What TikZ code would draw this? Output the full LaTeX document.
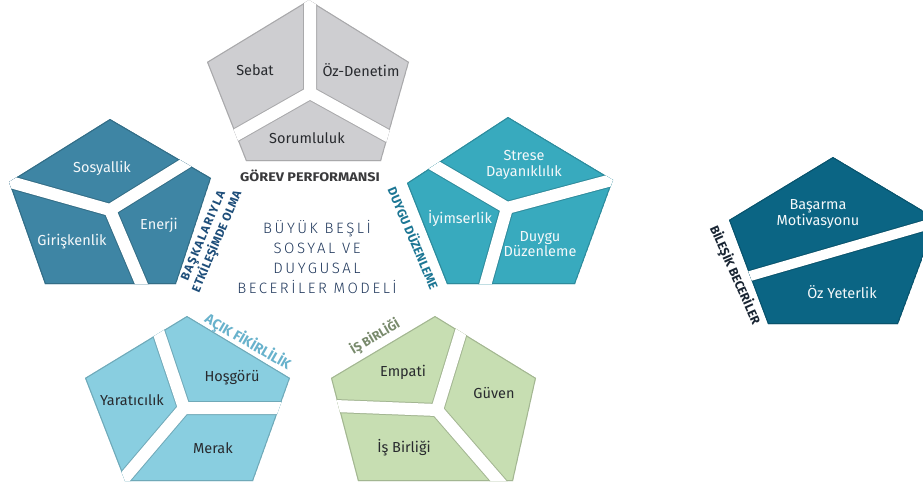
\documentclass[tikz,border=0pt]{standalone}
\usepackage{fontspec}
\setmainfont{Fira Sans}
\newfontfamily\modelfont[LetterSpace=17]{Fira Sans Light}

% fills of the six skill groups
\definecolor{perfgray}{RGB}{206,206,209}
\definecolor{socblue}{RGB}{62,133,164}
\definecolor{emoteal}{RGB}{56,170,190}
\definecolor{openblue}{RGB}{137,206,224}
\definecolor{teamgreen}{RGB}{199,222,178}
\definecolor{compblue}{RGB}{11,101,132}
% text colours
\definecolor{darktext}{RGB}{40,42,46}
\definecolor{lighttext}{RGB}{244,248,250}
\definecolor{titlenavy}{RGB}{32,56,92}
\definecolor{perflabel}{RGB}{58,58,60}
\definecolor{soclabel}{RGB}{30,78,122}
\definecolor{emolabel}{RGB}{28,118,148}
\definecolor{openlabel}{RGB}{104,178,204}
\definecolor{teamlabel}{RGB}{120,138,108}
\definecolor{complabel}{RGB}{24,36,50}

% a pentagon in colour #1 with outline #2, cut apart by the white gaps #3
\newcommand\skillgroup[3]{%
  \begin{scope}
    \clip #2 -- cycle;
    \fill[#1] #2 -- cycle;
    \draw[#1!82!black, line width=2pt] #2 -- cycle;
    \draw[#1!82!black, line width=14pt] #3;
    \draw[white, line width=12pt] #3;
  \end{scope}}

\tikzset{
  piece/.style={font=\fontsize{14.5}{15.5}\selectfont, align=center, inner sep=0pt},
  ondark/.style={piece, text=lighttext},
  onlight/.style={piece, text=darktext},
  grouptitle/.style={font=\bfseries\fontsize{#1}{15}\selectfont, align=center, inner sep=0pt},
  grouptitle/.default=12.5,
}

\begin{document}
\begin{tikzpicture}[x=1pt, y=-1pt]
  \useasboundingbox (0,0) rectangle (923,485);
  \clip (0,0) rectangle (923,485);
  \fill[white] (0,0) rectangle (923,485);

  % hubs where the three pieces of each group meet, and the far ends of the gaps
  \coordinate (perf hub) at (310,93);
  \coordinate (perf g1) at (310,-60);
  \coordinate (perf g2) at (162,177);
  \coordinate (perf g3) at (462,177);

  \coordinate (soc hub) at (110,210);
  \coordinate (soc g1) at (-82,156);
  \coordinate (soc g2) at (252,122);
  \coordinate (soc g3) at (166,342);

  \coordinate (emo hub) at (507,208);
  \coordinate (emo g1) at (367,126);
  \coordinate (emo g2) at (709,154);
  \coordinate (emo g3) at (469,342);

  \coordinate (open hub) at (184,408);
  \coordinate (open g1) at (135,262);
  \coordinate (open g2) at (384,408);
  \coordinate (open g3) at (70,542);

  \coordinate (team hub) at (437,410);
  \coordinate (team g1) at (483,260);
  \coordinate (team g2) at (233,402);
  \coordinate (team g3) at (553,544);

  \coordinate (comp g1) at (700,290.5);
  \coordinate (comp g2) at (960,215.3);

  % Görev performansı
  \skillgroup{perfgray}{(309,0) -- (409,62) -- (381,161) -- (246,161) -- (207,62)}
    {(perf hub) -- (perf g1) (perf hub) -- (perf g2) (perf hub) -- (perf g3)}
  % Başkalarıyla etkileşimde olma
  \skillgroup{socblue}{(110,119) -- (211,178) -- (176,284) -- (45,284) -- (9,182)}
    {(soc hub) -- (soc g1) (soc hub) -- (soc g2) (soc hub) -- (soc g3)}
  % Duygu düzenleme
  \skillgroup{emoteal}{(508,117) -- (613,180) -- (575,284) -- (447,284) -- (407,183)}
    {(emo hub) -- (emo g1) (emo hub) -- (emo g2) (emo hub) -- (emo g3)}
  % Açık fikirlilik
  \skillgroup{openblue}{(187,316) -- (290,378) -- (253,481) -- (125,481) -- (85,378)}
    {(open hub) -- (open g1) (open hub) -- (open g2) (open hub) -- (open g3)}
  % İş birliği
  \skillgroup{teamgreen}{(435,316) -- (536,378) -- (513,481) -- (358,481) -- (331,378)}
    {(team hub) -- (team g1) (team hub) -- (team g2) (team hub) -- (team g3)}
  % Bileşik beceriler, split by one band
  \begin{scope}
    \clip (833,157) -- (937,219) -- (898,324) -- (768,324) -- (729,220) -- cycle;
    \fill[compblue] (833,157) -- (937,219) -- (898,324) -- (768,324) -- (729,220) -- cycle;
    \draw[compblue!82!black, line width=2pt] (833,157) -- (937,219) -- (898,324) -- (768,324) -- (729,220) -- cycle;
    \draw[compblue!82!black, line width=12pt] (comp g1) -- (comp g2);
    \draw[white, line width=10pt] (comp g1) -- (comp g2);
  \end{scope}

  % piece labels
  \node[onlight] (sebat) at (255,70) {Sebat};
  \node[onlight] (ozdenetim) at (361,70) {Öz-Denetim};
  \node[onlight] (sorumluluk) at (307,138) {Sorumluluk};

  \node[ondark] (sosyallik) at (102,168) {Sosyallik};
  \node[ondark] (giriskenlik) at (72,242) {Girişkenlik};
  \node[ondark] (enerji) at (159,225) {Enerji};

  \node[ondark] (strese) at (524,165) {Strese\\Dayanıklılık};
  \node[ondark] (iyimserlik) at (460,218) {İyimserlik};
  \node[ondark] (duygu) at (540,244) {Duygu\\Düzenleme};

  \node[onlight] (hosgoru) at (232,378) {Hoşgörü};
  \node[onlight] (yaraticilik) at (132,400) {Yaratıcılık};
  \node[onlight] (merak) at (213,448) {Merak};

  \node[onlight] (empati) at (403,372) {Empati};
  \node[onlight] (guven) at (494,393) {Güven};
  \node[onlight] (isbirligi) at (404,448) {İş Birliği};

  \node[ondark] (basarma) at (818,214) {Başarma\\Motivasyonu};
  \node[ondark] (ozyeterlik) at (842,292) {Öz Yeterlik};

  % group titles
  \node[grouptitle, text=perflabel] (perf title) at (310,176) {\scalebox{1.15}[1]{GÖREV PERFORMANSI}};
  \node[grouptitle=12, text=soclabel, rotate=67] (soc title) at (211,239)
    {{\addfontfeatures{LetterSpace=12}BAŞKALARIYLA}\\{\addfontfeatures{LetterSpace=3}ETKİLEŞİMDE OLMA}};
  \node[grouptitle, text=emolabel, rotate=-67] (emo title) at (414,238) {DUYGU DÜZENLEME};
  \node[grouptitle=14, text=openlabel, rotate=-30] (open title) at (248,342) {AÇIK FİKİRLİLİK};
  \node[grouptitle, text=teamlabel, rotate=30.5] (team title) at (375,337) {İŞ BİRLİĞİ};
  \node[grouptitle, text=complabel, rotate=-66] (comp title) at (735,275) {BİLEŞİK BECERİLER};

  % model name in the middle
  \node[font=\modelfont\fontsize{15}{20.3}\selectfont, text=titlenavy, align=center, inner sep=0pt]
    (model title) at (317,257) {BÜYÜK BEŞLİ\\SOSYAL VE\\DUYGUSAL\\BECERİLER MODELİ};
\end{tikzpicture}
\end{document}
